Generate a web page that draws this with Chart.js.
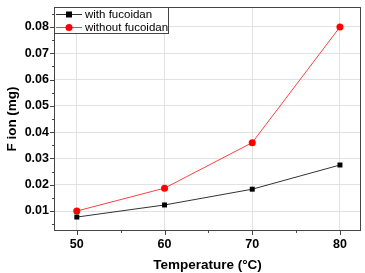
<!DOCTYPE html>
<html>
<head>
<meta charset="utf-8">
<script src="https://cdn.jsdelivr.net/npm/chart.js@4.4.1/dist/chart.umd.min.js"></script>
<style>
  html, body { margin: 0; padding: 0; background: #fff; }
  #wrap { width: 365px; height: 273px; }
</style>
</head>
<body>
<div id="wrap"><canvas id="grafico"></canvas></div>
<script>
const temperaturas = [50, 60, 70, 80];
const conFucoidan = [0.0077, 0.0123, 0.0183, 0.0275];
const sinFucoidan = [0.0100, 0.0187, 0.0360, 0.0800];
const ticksX = [50, 60, 70, 80];
const ticksXMenores = [55, 65, 75];
const ticksY = [0.01, 0.02, 0.03, 0.04, 0.05, 0.06, 0.07, 0.08];
const ticksYMenores = [0.005, 0.015, 0.025, 0.035, 0.045, 0.055, 0.065, 0.075, 0.085];

const fuenteTick = { family: 'Liberation Sans, Arial, sans-serif', size: 12.5, weight: 'bold' };
const fuenteTitulo = { family: 'Liberation Sans, Arial, sans-serif', size: 13.5, weight: 'bold' };

// marco, ticks exteriores y leyenda dentro del area
const marcoPlugin = {
  id: 'marco',
  afterDraw(chart) {
    const ctx = chart.ctx;
    const a = chart.chartArea;
    const sx = chart.scales.x, sy = chart.scales.y;
    ctx.save();
    ctx.strokeStyle = '#444';
    ctx.lineWidth = 1;
    ctx.strokeRect(a.left + 0.5, a.top + 0.5, a.right - a.left - 1, a.bottom - a.top - 1);

    ctx.beginPath();
    ticksX.forEach(v => {
      const x = Math.round(sx.getPixelForValue(v)) + 0.5;
      ctx.moveTo(x, a.bottom); ctx.lineTo(x, a.bottom + 4);
    });
    ticksXMenores.forEach(v => {
      const x = Math.round(sx.getPixelForValue(v)) + 0.5;
      ctx.moveTo(x, a.bottom); ctx.lineTo(x, a.bottom + 2);
    });
    ticksY.forEach(v => {
      const y = Math.round(sy.getPixelForValue(v)) + 0.5;
      ctx.moveTo(a.left, y); ctx.lineTo(a.left - 4, y);
    });
    ticksYMenores.forEach(v => {
      const y = Math.round(sy.getPixelForValue(v)) + 0.5;
      if (y > a.top && y < a.bottom) { ctx.moveTo(a.left, y); ctx.lineTo(a.left - 2, y); }
    });
    ctx.stroke();

    // leyenda
    const lx = a.left, ly = a.top, lw = 114, lh = 26;
    ctx.fillStyle = '#fff';
    ctx.fillRect(lx + 1, ly + 1, lw - 1, lh - 1);
    ctx.strokeStyle = '#444';
    ctx.strokeRect(lx + 0.5, ly + 0.5, lw, lh);
    ctx.font = '11.5px "Liberation Sans", Arial, sans-serif';
    ctx.textBaseline = 'middle';
    chart.data.datasets.forEach((ds, i) => {
      const y = ly + 7.5 + i * 13;
      ctx.strokeStyle = ds.borderColor;
      ctx.lineWidth = 1;
      ctx.beginPath(); ctx.moveTo(lx + 2, y); ctx.lineTo(lx + 28, y); ctx.stroke();
      ctx.fillStyle = ds.pointBackgroundColor;
      if (ds.pointStyle === 'rect') {
        ctx.fillRect(lx + 15 - 3, y - 3, 6, 6);
      } else {
        ctx.beginPath(); ctx.arc(lx + 15, y, 3.5, 0, Math.PI * 2); ctx.fill();
      }
      ctx.fillStyle = '#000';
      ctx.fillText(ds.label, lx + 31, y + 0.5);
    });
    ctx.restore();
  }
};

function crearGrafico() {
  const ctx = document.getElementById('grafico').getContext('2d');
  new Chart(ctx, {
    type: 'line',
    data: {
      datasets: [
        {
          label: 'with fucoidan',
          data: temperaturas.map((t, i) => ({ x: t, y: conFucoidan[i] })),
          borderColor: '#333',
          borderWidth: 1,
          pointStyle: 'rect',
          pointRadius: 3.5,
          pointBackgroundColor: '#000',
          pointBorderColor: '#000',
          pointBorderWidth: 0
        },
        {
          label: 'without fucoidan',
          data: temperaturas.map((t, i) => ({ x: t, y: sinFucoidan[i] })),
          borderColor: '#ff4040',
          borderWidth: 1,
          pointStyle: 'circle',
          pointRadius: 3.5,
          pointBackgroundColor: '#ff0000',
          pointBorderColor: '#ff0000',
          pointBorderWidth: 0
        }
      ]
    },
    options: {
      responsive: false,
      animation: false,
      devicePixelRatio: 1,
      layout: { padding: { top: 0, right: 2, left: 0, bottom: 0 } },
      plugins: { legend: { display: false }, tooltip: { enabled: false } },
      scales: {
        x: {
          type: 'linear',
          min: 47.4,
          max: 82.4,
          afterBuildTicks: s => { s.ticks = ticksX.map(v => ({ value: v })); },
          afterFit: s => { s.height = 42; s.paddingLeft = 0; s.paddingRight = 0; },
          grid: { color: '#e2e2e2', drawTicks: false },
          border: { display: false },
          ticks: { font: fuenteTick, color: '#000', padding: 6, maxRotation: 0 },
          title: { display: true, text: 'Temperature (°C)', font: fuenteTitulo, color: '#000', padding: { top: 0, bottom: 0 } }
        },
        y: {
          min: 0.0024,
          max: 0.0876,
          afterBuildTicks: s => { s.ticks = ticksY.map(v => ({ value: v })); },
          afterFit: s => { s.width = 54; s.paddingTop = 7; s.paddingBottom = 0; },
          grid: { color: '#e2e2e2', drawTicks: false },
          border: { display: false },
          ticks: { font: fuenteTick, color: '#000', padding: 5, callback: v => v.toFixed(2) },
          title: { display: true, text: 'F ion (mg)', font: fuenteTitulo, color: '#000', padding: { bottom: 2 } }
        }
      }
    },
    plugins: [marcoPlugin]
  });
}

const cv = document.getElementById('grafico');
cv.width = 365;
cv.height = 273;
document.addEventListener('DOMContentLoaded', crearGrafico);
</script>
</body>
</html>
